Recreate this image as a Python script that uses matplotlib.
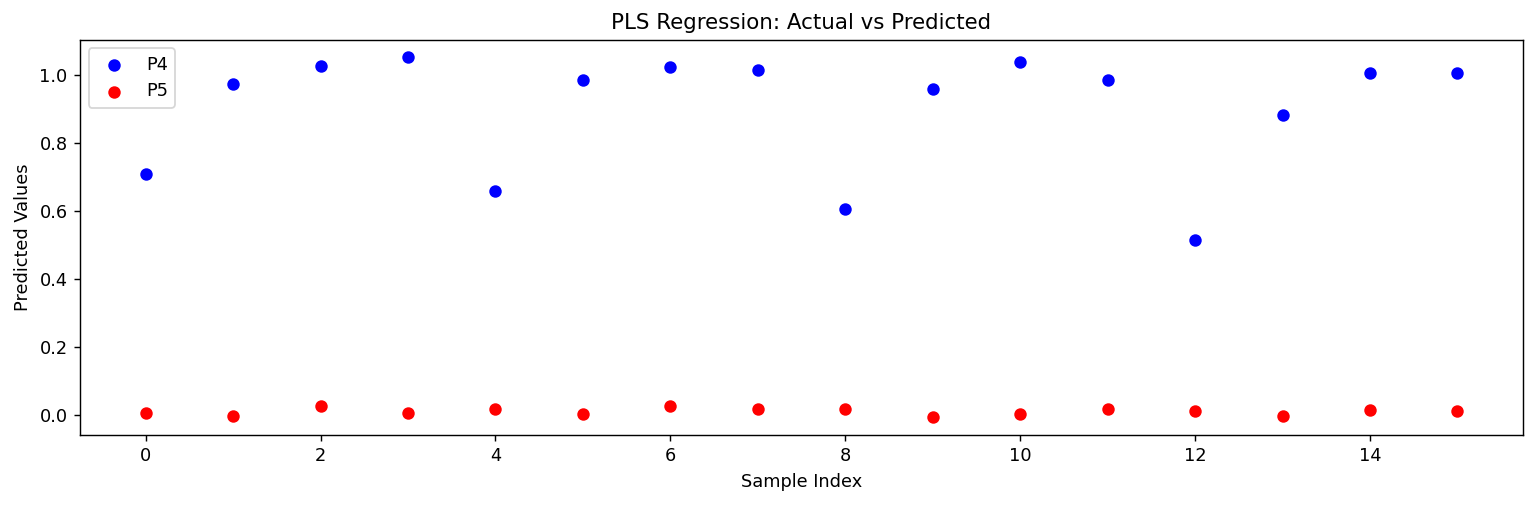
import matplotlib
matplotlib.use("Agg")
import matplotlib.pyplot as plt

# Valores
indices = list(range(16))
p4 = [0.709, 0.971, 1.026, 1.050, 0.659, 0.985, 1.021, 1.012,
      0.606, 0.956, 1.038, 0.985, 0.515, 0.882, 1.003, 1.003]
p5 = [0.006, -0.003, 0.026, 0.006, 0.018, 0.003, 0.026, 0.018,
      0.018, -0.006, 0.003, 0.018, 0.012, -0.003, 0.015, 0.012]

fig, ax = plt.subplots(figsize=(12, 505 / 128), dpi=128)

ax.scatter(indices, p4, color='blue', label='P4')
ax.scatter(indices, p5, color='red', label='P5')

ax.set_title("PLS Regression: Actual vs Predicted")
ax.set_xlabel("Sample Index")
ax.set_ylabel("Predicted Values")
ax.legend(loc='upper left')

# margens ajustadas à referência
fig.subplots_adjust(left=80 / 1536, right=1523 / 1536,
                    top=1 - 39.5 / 505, bottom=1 - 435 / 505)
plt.savefig("out.png", dpi=128)
plt.close()
